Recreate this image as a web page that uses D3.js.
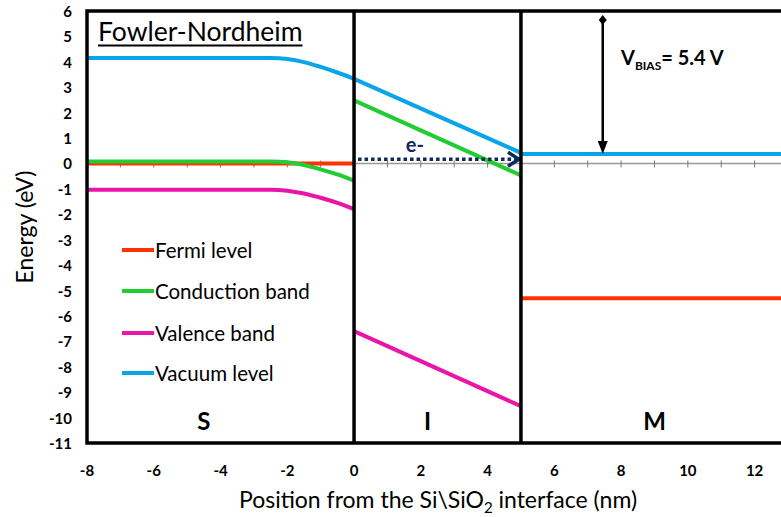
<!DOCTYPE html>
<html>
<head>
<meta charset="utf-8">
<script src="https://cdn.jsdelivr.net/npm/d3@7"></script>
<style>
  body { margin: 0; background: #fff; }
  svg { font-family: Lato, "Noto Sans", sans-serif; }
</style>
</head>
<body>
<div id="chart"></div>
<script>
// band diagram values
var siX = [-8, -2.5, -2, -1.5, -1, -0.5, 0];
var fermiSi = [0, 0, 0, 0, 0, 0, 0];
var cbSi = [0.08, 0.08, 0.05, -0.06, -0.23, -0.43, -0.68];
var vbSi = [-1.03, -1.03, -1.07, -1.18, -1.35, -1.55, -1.8];
var vacSi = [4.15, 4.15, 4.11, 3.99, 3.80, 3.58, 3.33];

var oxX = [0, 5];
var cbOx = [2.48, -0.47];
var vbOx = [-6.6, -9.55];
var vacOx = [3.33, 0.42];

var mX = [5, 13];
var fermiM = [-5.3, -5.3];
var vacM = [0.37, 0.37];

var xTicks = [-8, -6, -4, -2, 0, 2, 4, 6, 8, 10, 12];
var yTicks = [6, 5, 4, 3, 2, 1, 0, -1, -2, -3, -4, -5, -6, -7, -8, -9, -10, -11];
var legendNames = ["Fermi level", "Conduction band", "Valence band", "Vacuum level"];
var regions = [{name: "S", x: -4.5}, {name: "I", x: 2.2}, {name: "M", x: 9}];
var bias = {x: 7.45, top: 5.65, bottom: 0.37};

var colors = {
    fermi: "#ff3300",
    cb: "#22cc33",
    vb: "#e815a8",
    vac: "#0aa5e8"
};

var svgWidth = 781;
var svgHeight = 517;

var margin = {top: 11, left: 87};
var height = 432;
var width = 701;

var svg = d3.select("#chart")
    .append("svg")
    .attr("width", svgWidth)
    .attr("height", svgHeight);

var x = d3.scaleLinear()
    .domain([-8, 13])
    .range([margin.left, margin.left + width]);

var y = d3.scaleLinear()
    .domain([-11, 6])
    .range([margin.top + height, margin.top]);

// zero axis with crossing ticks
svg.append("line")
    .attr("x1", x(-8)).attr("x2", x(13))
    .attr("y1", y(0)).attr("y2", y(0))
    .attr("stroke", "#999").attr("stroke-width", 1.5);

svg.selectAll(".zt")
    .data(d3.range(-8, 14))
    .enter().append("line")
    .attr("x1", d => x(d)).attr("x2", d => x(d))
    .attr("y1", y(0) - 3).attr("y2", y(0) + 4)
    .attr("stroke", "#777").attr("stroke-width", 1);

var line = d3.line()
    .x(d => x(d[0]))
    .y(d => y(d[1]));

var smooth = d3.line()
    .x(d => x(d[0]))
    .y(d => y(d[1]))
    .curve(d3.curveMonotoneX);

function zip(xs, ys) {
    return xs.map((v, i) => [v, ys[i]]);
}

var series = [
    {pts: zip(siX, fermiSi), c: colors.fermi, f: line},
    {pts: zip(mX, fermiM), c: colors.fermi, f: line},
    {pts: zip(siX, cbSi), c: colors.cb, f: smooth},
    {pts: zip(oxX, cbOx), c: colors.cb, f: line},
    {pts: zip(siX, vbSi), c: colors.vb, f: smooth},
    {pts: zip(oxX, vbOx), c: colors.vb, f: line},
    {pts: zip(siX, vacSi), c: colors.vac, f: smooth},
    {pts: zip(oxX, vacOx), c: colors.vac, f: line},
    {pts: zip(mX, vacM), c: colors.vac, f: line}
];

svg.selectAll(".band")
    .data(series)
    .enter().append("path")
    .attr("d", d => d.f(d.pts))
    .attr("fill", "none")
    .attr("stroke", d => d.c)
    .attr("stroke-width", 4);

// electron arrow
var navy = "#0f2a5e";
svg.append("line")
    .attr("x1", x(0) + 4).attr("x2", x(5) - 4)
    .attr("y1", y(0.17)).attr("y2", y(0.17))
    .attr("stroke", navy).attr("stroke-width", 3.5)
    .attr("stroke-dasharray", "3.5,3");
svg.append("path")
    .attr("d", `M${x(5) - 13},${y(0.17) - 7} L${x(5) - 2},${y(0.17)} L${x(5) - 13},${y(0.17) + 7}`)
    .attr("fill", "none").attr("stroke", navy).attr("stroke-width", 3.5);
svg.append("text")
    .attr("x", x(1.55)).attr("y", y(0.17) - 7)
    .attr("fill", navy).attr("font-size", 20).attr("font-weight", 700)
    .text("e-");

// frame and interfaces
svg.append("rect")
    .attr("x", x(-8)).attr("y", y(6))
    .attr("width", width).attr("height", height)
    .attr("fill", "none").attr("stroke", "#000").attr("stroke-width", 3.5);

svg.selectAll(".iface")
    .data([0, 5])
    .enter().append("line")
    .attr("x1", d => x(d)).attr("x2", d => x(d))
    .attr("y1", y(6)).attr("y2", y(-11))
    .attr("stroke", "#000").attr("stroke-width", 3.5);

// bias arrow
svg.append("line")
    .attr("x1", x(bias.x)).attr("x2", x(bias.x))
    .attr("y1", y(bias.top)).attr("y2", y(bias.bottom) - 6)
    .attr("stroke", "#000").attr("stroke-width", 2.5);
svg.append("path")
    .attr("d", `M${x(bias.x) - 5},${y(bias.bottom) - 13} L${x(bias.x)},${y(bias.bottom)} L${x(bias.x) + 5},${y(bias.bottom) - 13} Z`)
    .attr("fill", "#000");
svg.append("path")
    .attr("d", `M${x(bias.x)},${y(bias.top) - 5} L${x(bias.x) + 4},${y(bias.top)} L${x(bias.x)},${y(bias.top) + 5} L${x(bias.x) - 4},${y(bias.top)} Z`)
    .attr("fill", "#000");

var vb = svg.append("text")
    .attr("x", 621).attr("y", 65)
    .attr("font-size", 20).attr("font-weight", 700);
vb.append("tspan").text("V");
vb.append("tspan").attr("font-size", 12).attr("dy", 5).text("BIAS");
vb.append("tspan").attr("dy", -5).text("= 5.4 V");

// y tick labels
svg.selectAll(".yt")
    .data(yTicks)
    .enter().append("text")
    .attr("x", 72).attr("y", d => y(d))
    .attr("text-anchor", "end").attr("dominant-baseline", "central")
    .attr("font-size", 15).attr("font-weight", 700)
    .text(d => d);

// x tick labels
svg.selectAll(".xt")
    .data(xTicks)
    .enter().append("text")
    .attr("x", d => x(d)).attr("y", 470)
    .attr("text-anchor", "middle").attr("dominant-baseline", "central")
    .attr("font-size", 15).attr("font-weight", 700)
    .text(d => d);

// axis titles
svg.append("text")
    .attr("transform", `translate(33, ${y(-2.5)}) rotate(-90)`)
    .attr("text-anchor", "middle")
    .attr("font-size", 23)
    .text("Energy (eV)");

var xt = svg.append("text")
    .attr("x", 438).attr("y", 508)
    .attr("text-anchor", "middle")
    .attr("font-size", 23);
xt.append("tspan").text("Position from the Si\\SiO");
xt.append("tspan").attr("font-size", 15).attr("dy", 5).text("2");
xt.append("tspan").attr("dy", -5).text(" interface (nm)");

// title
var title = svg.append("text")
    .attr("x", 98).attr("y", 41)
    .attr("font-size", 26.5)
    .text("Fowler-Nordheim");
var tw = title.node().getComputedTextLength();
svg.append("line")
    .attr("x1", 98).attr("x2", 98 + tw)
    .attr("y1", 45.5).attr("y2", 45.5)
    .attr("stroke", "#000").attr("stroke-width", 2);

// legend
var legendColors = [colors.fermi, colors.cb, colors.vb, colors.vac];
var legendY = [250, 291, 333, 373];
var lg = svg.selectAll(".lg")
    .data(legendNames)
    .enter().append("g")
    .attr("transform", (d, i) => `translate(122, ${legendY[i]})`);
lg.append("line")
    .attr("x1", 0).attr("x2", 32)
    .attr("stroke", (d, i) => legendColors[i]).attr("stroke-width", 4);
lg.append("text")
    .attr("x", 33).attr("dominant-baseline", "central")
    .attr("font-size", 20.5)
    .text(d => d);

// region labels
svg.selectAll(".reg")
    .data(regions)
    .enter().append("text")
    .attr("x", d => x(d.x)).attr("y", 420)
    .attr("text-anchor", "middle").attr("dominant-baseline", "central")
    .attr("font-size", 24).attr("font-weight", 700)
    .text(d => d.name);
</script>
</body>
</html>
